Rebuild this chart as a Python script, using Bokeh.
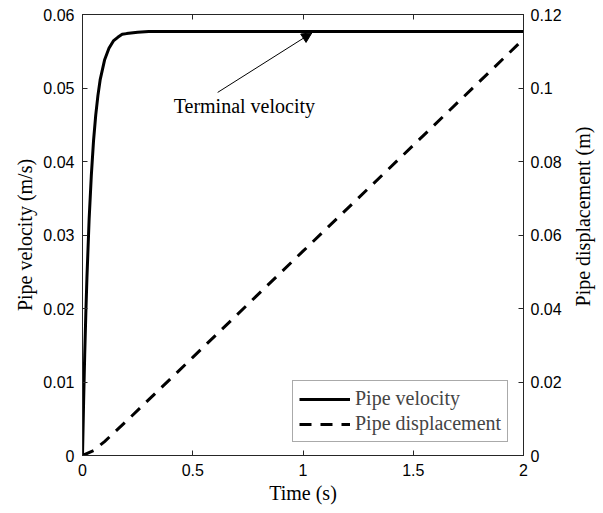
import math
from bokeh.plotting import figure
from bokeh.layouts import row
from bokeh.models import (Range1d, LinearAxis, FixedTicker, CustomJSTickFormatter,
                          Legend, LegendItem, Arrow, NormalHead, Label)
from bokeh.embed import file_html
from bokeh.resources import INLINE

# --- data ---
t_vel = [0, 0.005, 0.01, 0.015, 0.02, 0.03, 0.04, 0.05, 0.06, 0.07, 0.08, 0.10,
         0.12, 0.14, 0.16, 0.18, 0.20, 0.25, 0.30, 0.40, 1.0, 2.0]
vel = [0, 0.0073, 0.0137, 0.0192, 0.0241, 0.0321, 0.0381, 0.0428, 0.0463, 0.0490,
       0.0511, 0.0538, 0.0554, 0.0564, 0.0569, 0.0573, 0.0574, 0.0576, 0.0577,
       0.0577, 0.0577, 0.0577]
t_disp = [0, 0.05, 0.1, 0.2, 0.5, 1.0, 1.5, 2.0]
disp = [0, 0.0013, 0.0038, 0.0094, 0.0267, 0.0556, 0.0844, 0.1133]

x_ticks = [0, 0.5, 1, 1.5, 2]
vel_ticks = [0, 0.01, 0.02, 0.03, 0.04, 0.05, 0.06]
disp_ticks = [0, 0.02, 0.04, 0.06, 0.08, 0.1, 0.12]

annot_text = "Terminal velocity"
annot_pos = (0.734, 0.0476)
arrow_start = (0.613, 0.0494)
arrow_end = (1.040, 0.0575)
right_title = "Pipe displacement (m)"

AX = "#262626"
SERIF = "Liberation Serif"
SANS = "Liberation Sans"

p = figure(width=565, height=513, output_backend="svg", toolbar_location=None,
           x_range=Range1d(0, 2), y_range=Range1d(0, 0.06),
           min_border_left=82, min_border_right=42, min_border_top=14,
           min_border_bottom=58)
p.extra_y_ranges = {"disp": Range1d(0, 0.12)}
p.xgrid.visible = False
p.ygrid.visible = False
p.outline_line_color = AX
p.outline_line_width = 1
p.background_fill_color = "white"
p.border_fill_color = "white"

fmt = CustomJSTickFormatter(code="return String(Number(tick.toFixed(4)));")

def style_axis(ax, ticks):
    ax.ticker = FixedTicker(ticks=ticks)
    ax.formatter = fmt
    ax.major_tick_in = 5
    ax.major_tick_out = 0
    ax.minor_tick_in = 0
    ax.minor_tick_out = 0
    ax.axis_line_color = AX
    ax.major_tick_line_color = AX
    ax.major_label_text_font = SANS
    ax.major_label_text_font_size = "16px"
    ax.major_label_text_color = "black"
    ax.axis_label_text_font = SERIF
    ax.axis_label_text_font_size = "20px"
    ax.axis_label_text_font_style = "normal"
    ax.axis_label_text_color = "black"

xa = p.xaxis[0]
style_axis(xa, x_ticks)
xa.axis_label = "Time (s)"
xa.major_label_standoff = 8
xa.axis_label_standoff = 3

ya = p.yaxis[0]
style_axis(ya, vel_ticks)
ya.axis_label = "Pipe velocity (m/s)"
ya.major_label_standoff = 8
ya.axis_label_standoff = 4

ra = LinearAxis(y_range_name="disp")
style_axis(ra, disp_ticks)
ra.major_label_standoff = 7
p.add_layout(ra, "right")

ta = LinearAxis()
style_axis(ta, x_ticks)
ta.formatter = CustomJSTickFormatter(code="return '';")
ta.major_label_standoff = 0
p.add_layout(ta, "above")

r1 = p.line(t_vel, vel, line_color="black", line_width=3, line_join="round")
r2 = p.line(t_disp, disp, line_color="black", line_width=3, line_dash="12 9",
            y_range_name="disp")

p.add_layout(Label(x=annot_pos[0], y=annot_pos[1], text=annot_text,
                   text_align="center", text_baseline="middle",
                   text_font=SERIF, text_font_size="20px", text_color="black"))
p.add_layout(Arrow(end=NormalHead(size=10, fill_color="black", line_color="black"),
                   x_start=arrow_start[0], y_start=arrow_start[1],
                   x_end=arrow_end[0], y_end=arrow_end[1],
                   line_width=1, line_color="black"))

legend = Legend(items=[LegendItem(label="Pipe velocity", renderers=[r1]),
                       LegendItem(label="Pipe displacement", renderers=[r2])],
                location=(210, 13), border_line_color="#555555",
                label_text_font=SERIF, label_text_font_size="20px",
                glyph_width=51, glyph_height=20, label_standoff=5,
                padding=6, spacing=2, margin=0, label_height=20)
p.add_layout(legend)

# narrow strip holding the right-hand axis title (reads bottom-to-top)
p2 = figure(width=38, height=513, output_backend="svg", toolbar_location=None,
            x_range=Range1d(0, 38), y_range=Range1d(0, 513),
            min_border=0, min_border_left=0, min_border_right=0,
            min_border_top=0, min_border_bottom=0)
p2.axis.visible = False
p2.xgrid.visible = False
p2.ygrid.visible = False
p2.outline_line_color = None
p2.background_fill_color = "white"
p2.border_fill_color = "white"
p2.add_layout(Label(x=17, y=278, text=right_title, angle=math.pi / 2,
                    text_align="center", text_baseline="middle",
                    text_font=SERIF, text_font_size="20px", text_color="black"))

open("out.html", "w").write(file_html(row(p, p2), INLINE))
